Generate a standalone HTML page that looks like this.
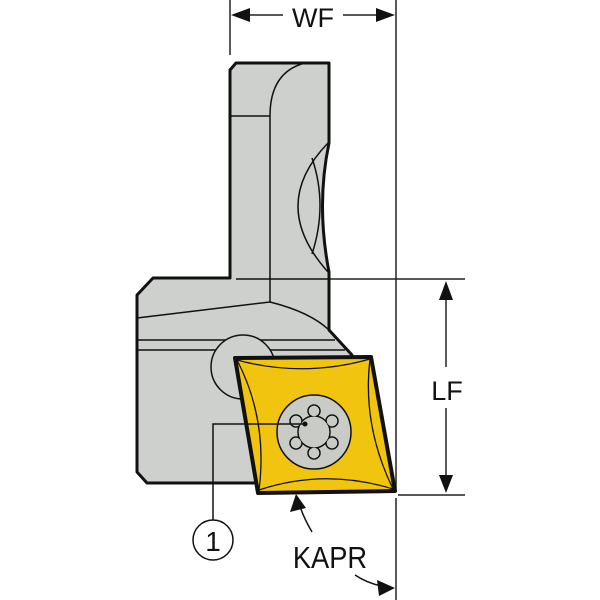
<!DOCTYPE html>
<html><head><meta charset="utf-8"><style>body{margin:0;background:#fff}svg{display:block}</style></head><body>
<svg width="600" height="600" viewBox="0 0 600 600" xmlns="http://www.w3.org/2000/svg" font-family="Liberation Sans, sans-serif">
<g stroke="#222" stroke-width="1.5" fill="none">
<line x1="230" y1="0" x2="230" y2="55"/>
<line x1="396" y1="0" x2="396" y2="490"/>
<line x1="396" y1="498" x2="396" y2="600"/>
<line x1="245" y1="15" x2="283" y2="15"/>
<line x1="343" y1="15" x2="381" y2="15"/>
<line x1="330" y1="279" x2="465" y2="279"/>
<line x1="398" y1="495" x2="465" y2="495"/>
<line x1="446" y1="300" x2="446" y2="367"/>
<line x1="446" y1="408" x2="446" y2="475"/>
</g>
<g fill="#111">
<polygon points="231,15 250,8 250,22"/>
<polygon points="395,15 376,8 376,22"/>
<polygon points="446,281 439,300 453,300"/>
<polygon points="446,493 439,475 453,475"/>
</g>
<text x="313" y="27" font-size="27" text-anchor="middle" fill="#111">WF</text>
<text x="447" y="400" font-size="27" text-anchor="middle" fill="#111">LF</text>
<path d="M236,63 L329,63 L329,143 Q316,205 329,272 L329,330 L352,355 L330,483 L147,483 L137,472 L137,295 L153,278 L230,278 L230,70 Z" fill="#cdd0cd" stroke="#111" stroke-width="3" stroke-linejoin="round"/>
<g stroke="#111" stroke-width="1.5" fill="none">
<line x1="230" y1="116" x2="270" y2="116"/>
<path d="M305,63 Q270,72 270,116 L270,302"/>
<line x1="236" y1="279" x2="329" y2="279"/>
<path d="M137,318 L270,302 Q310,312 329,330"/>
<path d="M328,143 Q268,205 328,272"/>
<path d="M312,158 Q328,205 312,254"/>
<line x1="137" y1="340" x2="335" y2="340"/>
<line x1="137" y1="350" x2="345" y2="350"/>
</g>
<circle cx="243" cy="367" r="32" fill="#cdd0cd" stroke="#111" stroke-width="1.5"/>
<path d="M235,358 L371,357 L395,491 L258,493 Z" fill="#f1c40f" stroke="#111" stroke-width="4" stroke-linejoin="round"/>
<g stroke="#111" stroke-width="1.3" fill="none">
<path d="M237,360 Q303,378 370,359"/>
<path d="M259,490 Q325,468 393,489"/>
<path d="M237,360 Q268,420 259,490"/>
<path d="M370,359 Q362,425 393,489"/>
</g>
<circle cx="314" cy="432" r="37" fill="#c9ccc6" stroke="#111" stroke-width="1.5"/>
<g fill="#c9ccc6" stroke="#111" stroke-width="1.5">
<circle cx="314" cy="411" r="6"/><circle cx="314" cy="453" r="6"/>
<circle cx="296" cy="421" r="6"/><circle cx="332" cy="421" r="6"/>
<circle cx="296" cy="443" r="6"/><circle cx="332" cy="443" r="6"/>
<circle cx="314" cy="432" r="16"/>
</g>
<g fill="#c9ccc6">
<circle cx="314" cy="411" r="5.2"/><circle cx="314" cy="453" r="5.2"/>
<circle cx="296" cy="421" r="5.2"/><circle cx="332" cy="421" r="5.2"/>
<circle cx="296" cy="443" r="5.2"/><circle cx="332" cy="443" r="5.2"/>
<circle cx="314" cy="432" r="15.2"/>
</g>
<circle cx="305" cy="424" r="2.5" fill="#111"/>
<g stroke="#111" stroke-width="1.5" fill="none">
<path d="M305,424 L213,424 L213,520"/>
<circle cx="213" cy="540" r="20"/>
<path d="M312,532 Q302,515 298,500"/>
<path d="M355,575 Q370,585 388,587"/>
</g>
<polygon points="296,494 290,512 306,508" fill="#111"/>
<polygon points="395,588 377,580 379,596" fill="#111"/>
<text x="213" y="551" font-size="28" text-anchor="middle" fill="#111">1</text>
<text x="330" y="568" font-size="31" text-anchor="middle" fill="#111" transform="translate(330 0) scale(0.88 1) translate(-330 0)">KAPR</text>
</svg>
</body></html>
